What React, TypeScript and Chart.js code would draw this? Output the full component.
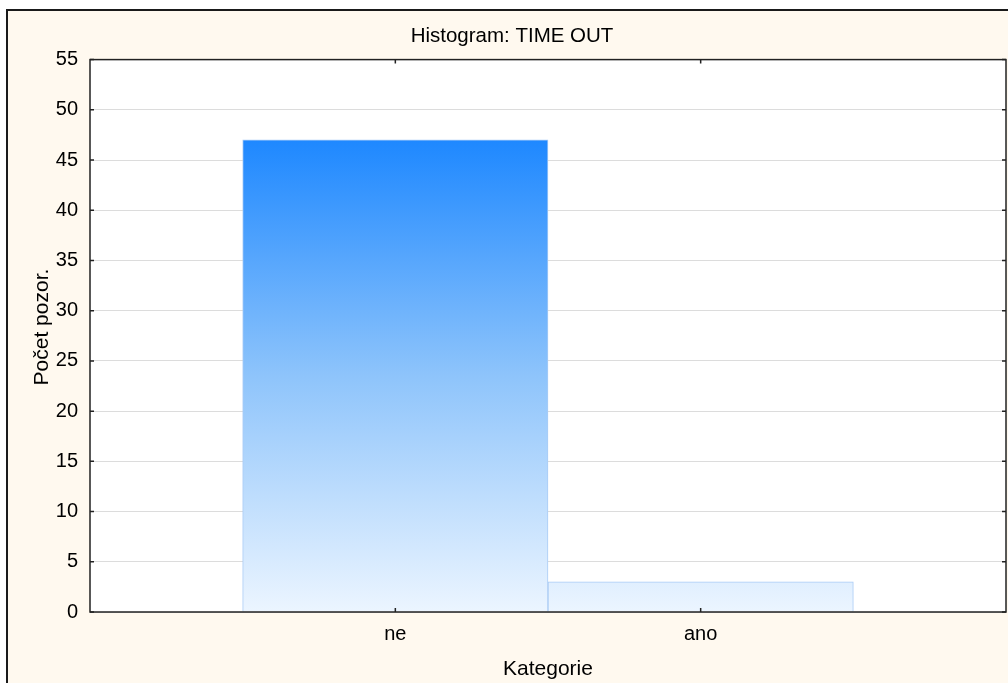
import React, { useEffect, useRef } from "react";
import { Chart, registerables } from "chart.js";

Chart.register(...registerables);

const categories: string[] = ["ne", "ano"];
const counts: number[] = [47, 3];
const yTicks: number[] = [0, 5, 10, 15, 20, 25, 30, 35, 40, 45, 50, 55];
const chartTitle = "Histogram: TIME OUT";
const xTitle = "Kategorie";
const yTitle = "Počet pozor.";

const FONT = "'Liberation Sans', Arial, sans-serif";

const framePlugin = {
  id: "frame",
  beforeDraw(chart: any) {
    const c = chart.ctx;
    c.save();
    c.fillStyle = "#ffffff";
    c.fillRect(0, 0, chart.width, chart.height);
    c.fillStyle = "#fff9ef";
    c.fillRect(7, 10, chart.width, chart.height);
    c.strokeStyle = "#1a1a1a";
    c.lineWidth = 2;
    c.beginPath();
    c.moveTo(7, chart.height + 5);
    c.lineTo(7, 10);
    c.lineTo(chart.width + 5, 10);
    c.stroke();
    const a = chart.chartArea;
    c.fillStyle = "#ffffff";
    c.fillRect(a.left, a.top, a.right - a.left, a.bottom - a.top);
    c.restore();
  },
  afterDatasetsDraw(chart: any) {
    const c = chart.ctx;
    const a = chart.chartArea;
    const xs = chart.scales.x;
    const ys = chart.scales.y;
    c.save();
    c.strokeStyle = "#222222";
    c.lineWidth = 1.5;
    c.strokeRect(a.left, a.top, a.right - a.left, a.bottom - a.top);
    c.beginPath();
    yTicks.forEach((v) => {
      const y = ys.getPixelForValue(v);
      c.moveTo(a.left, y);
      c.lineTo(a.left + 4, y);
      c.moveTo(a.right, y);
      c.lineTo(a.right - 4, y);
    });
    categories.forEach((_, i) => {
      const x = xs.getPixelForValue(i);
      c.moveTo(x, a.bottom);
      c.lineTo(x, a.bottom - 4);
      c.moveTo(x, a.top);
      c.lineTo(x, a.top + 4);
    });
    c.stroke();
    c.restore();
  },
};

export default function App() {
  const ref = useRef<HTMLCanvasElement | null>(null);

  useEffect(() => {
    if (!ref.current) return;
    const maxVal = Math.max(...counts);
    const chart = new Chart(ref.current, {
      type: "bar",
      data: {
        datasets: [
          {
            data: counts.map((v, i) => ({ x: i, y: v })),
            backgroundColor: (ctx: any) => {
              const ch = ctx.chart;
              const ys = ch.scales && ch.scales.y;
              if (!ch.chartArea || !ys) return "#8cc4fb";
              const g = ch.ctx.createLinearGradient(
                0,
                ys.getPixelForValue(0),
                0,
                ys.getPixelForValue(maxVal)
              );
              g.addColorStop(0, "#ecf5ff");
              g.addColorStop(0.5, "#8ec4fb");
              g.addColorStop(1, "#1e88ff");
              return g;
            },
            borderColor: "#a9cbf5",
            borderWidth: 1,
            barPercentage: 1,
            categoryPercentage: 1,
          },
        ],
      },
      options: {
        animation: false,
        responsive: false,
        devicePixelRatio: 1,
        layout: { padding: { left: 18, right: 2, top: 0, bottom: 0 } },
        plugins: {
          legend: { display: false },
          tooltip: { enabled: false },
          title: {
            display: true,
            text: chartTitle,
            color: "#000000",
            font: { family: FONT, size: 20.5, weight: "normal" },
            padding: { top: 24, bottom: 11 },
          },
        },
        scales: {
          x: {
            type: "linear",
            min: -1,
            max: 2,
            offset: false,
            afterBuildTicks: (s: any) => {
              s.ticks = categories.map((_, i) => ({ value: i }));
            },
            afterFit: (s: any) => {
              s.height = 71;
            },
            grid: { display: false, drawTicks: false, offset: false },
            border: { display: false },
            ticks: {
              padding: 10,
              color: "#000000",
              font: { family: FONT, size: 20 },
              maxRotation: 0,
              callback: (v: any) => categories[v] ?? "",
            },
            title: {
              display: true,
              text: xTitle,
              color: "#000000",
              font: { family: FONT, size: 21 },
              padding: { top: 0, bottom: 1 },
            },
          },
          y: {
            type: "linear",
            min: 0,
            max: 55,
            afterBuildTicks: (s: any) => {
              s.ticks = yTicks.map((v) => ({ value: v }));
            },
            afterFit: (s: any) => {
              s.width = 72;
            },
            grid: { color: "#dcdcdc", lineWidth: 1, drawTicks: false },
            border: { display: false },
            ticks: {
              padding: 12,
              color: "#000000",
              font: { family: FONT, size: 20 },
            },
            title: {
              display: true,
              text: "   " + yTitle,
              color: "#000000",
              font: { family: FONT, size: 21 },
              padding: { top: 12, bottom: 0 },
            },
          },
        },
      },
      plugins: [framePlugin],
    } as any);
    return () => chart.destroy();
  }, []);

  return (
    <div style={{ position: "fixed", left: 0, top: 0, width: 1008, height: 683, background: "#ffffff" }}>
      <canvas ref={ref} width={1008} height={683} style={{ display: "block" }} />
    </div>
  );
}
